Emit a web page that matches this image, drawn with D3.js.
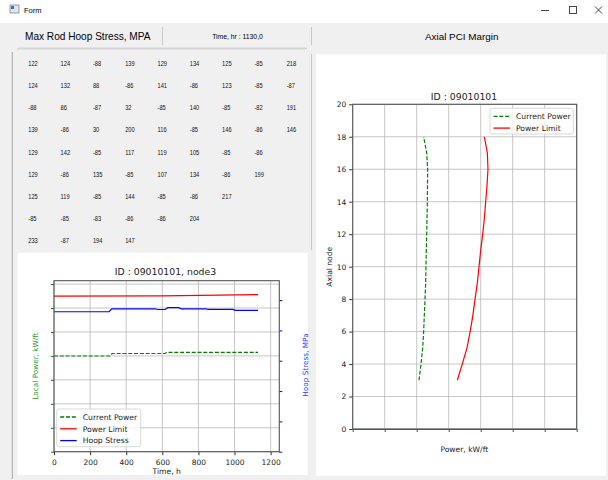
<!DOCTYPE html>
<html>
<head>
<meta charset="utf-8">
<script src="https://cdn.jsdelivr.net/npm/d3@7"></script>
<style>
  body { margin: 0; background: #f0f0f0; }
  svg { display: block; }
  .mpl { font-family: "DejaVu Sans", sans-serif; }
  .ui { font-family: "Liberation Sans", Arial, sans-serif; }
</style>
</head>
<body>
<svg id="form" width="608" height="480"></svg>
<script>
// hoop stress table, row by row
const hoopRows = [
  [122, 124, -88, 139, 129, 134, 125, -85, 218],
  [124, 132, 88, -86, 141, -86, 123, -85, -87],
  [-88, 86, -87, 32, -85, 140, -85, -82, 191],
  [139, -86, 30, 200, 116, -85, 146, -86, 146],
  [129, 142, -85, 117, 119, 105, -85, -86],
  [129, -86, 135, -85, 107, 134, -86, 199],
  [125, 119, -85, 144, -85, -86, 217],
  [-85, -85, -83, -86, -86, 204],
  [233, -87, 194, 147]
];

// time history for node3
const cpTime = [0, 310, 322, 615, 625, 1130];
const cpValue = [7.99, 7.99, 8.2, 8.2, 8.3, 8.3];
const plTime = [0, 600, 1130];
const plValue = [13.0, 13.02, 13.12];
const hsTime = [0, 305, 320, 560, 575, 615, 630, 690, 705, 840, 855, 990, 1005, 1130];
const hsValue = [230.8, 230.8, 235.7, 235.7, 234.5, 234.5, 237.5, 237.5, 235.7, 235.7, 234.8, 234.8, 233, 233];
const timeTicks = [0, 200, 400, 600, 800, 1000, 1200];
const powerTicks = [0, 2, 4, 6, 8, 10, 12, 14];
const stressTicks = [0, 50, 100, 150, 200, 250];

// axial profile
const axialNodes = [3, 4, 5, 6, 7, 8, 9, 10, 11, 12, 13, 14, 15, 16, 17, 18];
const axialCurrent = [8.29, 8.54, 8.75, 8.87, 8.95, 9.04, 9.12, 9.16, 9.2, 9.25, 9.29, 9.33, 9.35, 9.37, 9.25, 8.87];
const axialLimit = [13.08, 13.69, 14.29, 14.68, 15.02, 15.29, 15.58, 15.79, 16.0, 16.25, 16.46, 16.62, 16.79, 16.91, 16.83, 16.46];
const axialPowerTicks = [0, 4, 8, 12, 16, 20, 24, 28];
const nodeTicks = [0, 2, 4, 6, 8, 10, 12, 14, 16, 18, 20];

const svg = d3.select('#form');

function drawWindow() {
  // title bar
  svg.append('rect').attr('x', 0).attr('y', 0).attr('width', 608).attr('height', 23).attr('fill', '#fff');
  svg.append('rect').attr('x', 10).attr('y', 5).attr('width', 9).attr('height', 8)
    .attr('fill', '#dfe6ef').attr('stroke', '#7a8aa0').attr('stroke-width', 0.8);
  svg.append('rect').attr('x', 11).attr('y', 6).attr('width', 3).attr('height', 3).attr('fill', '#3a6fb5');
  svg.append('text').attr('class', 'ui').attr('x', 24).attr('y', 12.5)
    .attr('font-size', 7.5).attr('fill', '#000').text('Form');

  const ctl = svg.append('g').attr('stroke', '#333').attr('stroke-width', 0.9).attr('fill', 'none');
  ctl.append('line').attr('x1', 541).attr('x2', 549).attr('y1', 10.5).attr('y2', 10.5);
  ctl.append('rect').attr('x', 569.5).attr('y', 6.5).attr('width', 7).attr('height', 7);
  ctl.append('line').attr('x1', 595).attr('x2', 602).attr('y1', 6.5).attr('y2', 13.5);
  ctl.append('line').attr('x1', 602).attr('x2', 595).attr('y1', 6.5).attr('y2', 13.5);

  // header row
  svg.append('text').attr('class', 'ui').attr('x', 25).attr('y', 40.3)
    .attr('font-size', 10.1).attr('fill', '#000').text('Max Rod Hoop Stress, MPA');
  svg.append('text').attr('class', 'ui').attr('x', 237.5).attr('y', 39.2)
    .attr('text-anchor', 'middle').attr('font-size', 6.8).attr('fill', '#000').text('Time, hr : 1130,0');
  svg.append('text').attr('class', 'ui').attr('x', 461.7).attr('y', 39.5)
    .attr('text-anchor', 'middle').attr('font-size', 9.9).attr('fill', '#000').text('Axial PCI Margin');

  const sep = svg.append('g').attr('stroke', '#c8c8c8').attr('stroke-width', 1);
  sep.append('line').attr('x1', 162.5).attr('x2', 162.5).attr('y1', 27).attr('y2', 45);
  sep.append('line').attr('x1', 311.5).attr('x2', 311.5).attr('y1', 27).attr('y2', 45);
  sep.append('line').attr('x1', 311.5).attr('x2', 311.5).attr('y1', 54).attr('y2', 250);
  svg.append('line').attr('x1', 17).attr('x2', 307).attr('y1', 48.5).attr('y2', 48.5)
    .attr('stroke', '#d6d6d6').attr('stroke-width', 2);
  svg.append('line').attr('x1', 12.3).attr('x2', 12.3).attr('y1', 52).attr('y2', 479)
    .attr('stroke', '#a8a8a8').attr('stroke-width', 1);

  // white panels
  svg.append('rect').attr('x', 17.5).attr('y', 252.7).attr('width', 290.2).attr('height', 222.3).attr('fill', '#fff');
  svg.append('rect').attr('x', 316).attr('y', 54.3).attr('width', 290).attr('height', 421.4).attr('fill', '#fff');
}

function drawTable() {
  const g = svg.append('g').attr('class', 'ui').attr('font-size', 7.3).attr('fill', '#111');
  hoopRows.forEach((row, i) => {
    row.forEach((v, j) => {
      const x = 28.3 + 32.3 * j;
      const y = 65.7 + 22.2 * i;
      g.append('text')
        .attr('transform', `translate(${x},${y}) scale(0.78,1)`)
        .text(v);
    });
  });
}

function legend(g, x, y, w, h, items) {
  g.append('rect').attr('x', x).attr('y', y).attr('width', w).attr('height', h)
    .attr('rx', 2).attr('fill', '#fff').attr('fill-opacity', 0.8)
    .attr('stroke', '#d0d0d0').attr('stroke-width', 0.8);
  items.forEach((it, i) => {
    const yy = y + 8 + i * 11.8;
    g.append('line').attr('x1', x + 3.5).attr('x2', x + 20).attr('y1', yy).attr('y2', yy)
      .attr('stroke', it.color).attr('stroke-width', 1.3)
      .attr('stroke-dasharray', it.dash ? '4,1.8' : null);
    g.append('text').attr('class', 'mpl').attr('x', x + 26).attr('y', yy + 2.8)
      .attr('font-size', 7.7).attr('fill', '#222').text(it.label);
  });
}

function drawTimeChart() {
  const L = 54, R = 279.3, T = 280.7, B = 451.7;
  const x = d3.scaleLinear().domain([0, 1248]).range([L, R]);
  const yP = d3.scaleLinear().domain([0, 14.28]).range([B, T]);
  const yH = d3.scaleLinear().domain([0, 282]).range([B, T]);
  const g = svg.append('g');

  // grid
  g.selectAll('.vg').data(timeTicks).enter().append('line')
    .attr('x1', d => x(d)).attr('x2', d => x(d)).attr('y1', T).attr('y2', B)
    .attr('stroke', '#b8b8b8').attr('stroke-width', 0.8);
  g.selectAll('.hg').data(powerTicks).enter().append('line')
    .attr('x1', L).attr('x2', R).attr('y1', d => yP(d)).attr('y2', d => yP(d))
    .attr('stroke', '#b8b8b8').attr('stroke-width', 0.8);

  const lineOf = (xs, ys, sx, sy) => d3.line().x((d, i) => sx(xs[i])).y(d => sy(d))(ys);

  g.append('path').attr('d', lineOf(cpTime, cpValue, x, yP))
    .attr('fill', 'none').attr('stroke', 'green').attr('stroke-width', 1.2).attr('stroke-dasharray', '4,1.8');
  g.append('path').attr('d', lineOf(plTime, plValue, x, yP))
    .attr('fill', 'none').attr('stroke', 'red').attr('stroke-width', 1.2);
  g.append('path').attr('d', lineOf(hsTime, hsValue, x, yH))
    .attr('fill', 'none').attr('stroke', 'blue').attr('stroke-width', 1.2);

  // axes
  const ax = g.append('g').attr('transform', `translate(0,${B})`)
    .call(d3.axisBottom(x).tickValues(timeTicks).tickSize(3.5).tickSizeOuter(0).tickFormat(d3.format('d')));
  ax.selectAll('text').attr('class', 'mpl').attr('font-size', 7.5).attr('fill', '#222').attr('dy', '0.9em');
  ax.selectAll('line').attr('stroke', '#333');
  ax.select('.domain').remove();

  const al = g.append('g').attr('transform', `translate(${L},0)`)
    .call(d3.axisLeft(yP).tickValues(powerTicks).tickSize(3).tickFormat(''));
  al.selectAll('line').attr('stroke', 'green');
  al.select('.domain').remove();

  const ar = g.append('g').attr('transform', `translate(${R},0)`)
    .call(d3.axisRight(yH).tickValues(stressTicks).tickSize(3).tickFormat(''));
  ar.selectAll('line').attr('stroke', 'blue');
  ar.select('.domain').remove();

  g.append('rect').attr('x', L).attr('y', T).attr('width', R - L).attr('height', B - T)
    .attr('fill', 'none').attr('stroke', '#555').attr('stroke-width', 1.1);

  g.append('text').attr('class', 'mpl').attr('x', 165.5).attr('y', 274.5)
    .attr('text-anchor', 'middle').attr('font-size', 9.3).attr('fill', '#222').text('ID : 09010101, node3');
  g.append('text').attr('class', 'mpl').attr('x', 166.7).attr('y', 473.5)
    .attr('text-anchor', 'middle').attr('font-size', 7.6).attr('fill', '#222').text('Time, h');
  g.append('text').attr('class', 'mpl').attr('transform', 'translate(37.5,366) rotate(-90)')
    .attr('text-anchor', 'middle').attr('font-size', 7.3).attr('fill', '#2a9a2a').text('Local Power, kW/ft');
  g.append('text').attr('class', 'mpl').attr('transform', 'translate(307.5,365) rotate(-90)')
    .attr('text-anchor', 'middle').attr('font-size', 7.3).attr('fill', '#3a3aff').text('Hoop Stress, MPa');

  legend(g, 56.7, 409, 84, 37.7, [
    { label: 'Current Power', color: 'green', dash: true },
    { label: 'Power Limit', color: 'red' },
    { label: 'Hoop Stress', color: 'blue' }
  ]);
}

function drawAxialChart() {
  const L = 352.7, R = 576.7, T = 104.3, B = 429;
  const x = d3.scaleLinear().domain([0, 28]).range([L, R]);
  const y = d3.scaleLinear().domain([0, 20]).range([B, T]);
  const g = svg.append('g');

  g.selectAll('.vg').data(axialPowerTicks).enter().append('line')
    .attr('x1', d => x(d)).attr('x2', d => x(d)).attr('y1', T).attr('y2', B)
    .attr('stroke', '#b8b8b8').attr('stroke-width', 0.8);
  g.selectAll('.hg').data(nodeTicks).enter().append('line')
    .attr('x1', L).attr('x2', R).attr('y1', d => y(d)).attr('y2', d => y(d))
    .attr('stroke', '#b8b8b8').attr('stroke-width', 0.8);

  const prof = vals => d3.line().x(d => x(d)).y((d, i) => y(axialNodes[i]))(vals);
  g.append('path').attr('d', prof(axialCurrent))
    .attr('fill', 'none').attr('stroke', 'green').attr('stroke-width', 1.2).attr('stroke-dasharray', '4,1.8');
  g.append('path').attr('d', prof(axialLimit))
    .attr('fill', 'none').attr('stroke', 'red').attr('stroke-width', 1.2);

  const ax = g.append('g').attr('transform', `translate(0,${B})`)
    .call(d3.axisBottom(x).tickValues(axialPowerTicks).tickSize(3).tickFormat(''));
  ax.selectAll('line').attr('stroke', 'green');
  ax.select('.domain').remove();

  const ay = g.append('g').attr('transform', `translate(${L},0)`)
    .call(d3.axisLeft(y).tickValues(nodeTicks).tickSize(3.5));
  ay.selectAll('text').attr('class', 'mpl').attr('font-size', 7.5).attr('fill', '#222');
  ay.selectAll('line').attr('stroke', '#333');
  ay.select('.domain').remove();

  g.append('rect').attr('x', L).attr('y', T).attr('width', R - L).attr('height', B - T)
    .attr('fill', 'none').attr('stroke', '#555').attr('stroke-width', 1.1);
  g.append('line').attr('x1', L).attr('x2', R).attr('y1', B + 0.5).attr('y2', B + 0.5)
    .attr('stroke', '#555').attr('stroke-width', 1.2);

  g.append('text').attr('class', 'mpl').attr('x', 464).attr('y', 99.5)
    .attr('text-anchor', 'middle').attr('font-size', 9.3).attr('fill', '#222').text('ID : 09010101');
  g.append('text').attr('class', 'mpl').attr('x', 464.3).attr('y', 452)
    .attr('text-anchor', 'middle').attr('font-size', 7.6).attr('fill', '#222').text('Power, kW/ft');
  g.append('text').attr('class', 'mpl').attr('transform', 'translate(332,266.7) rotate(-90)')
    .attr('text-anchor', 'middle').attr('font-size', 7.6).attr('fill', '#222').text('Axial node');

  legend(g, 490, 108.3, 83.3, 25.7, [
    { label: 'Current Power', color: 'green', dash: true },
    { label: 'Power Limit', color: 'red' }
  ]);
}

drawWindow();
drawTable();
drawTimeChart();
drawAxialChart();
</script>
</body>
</html>
